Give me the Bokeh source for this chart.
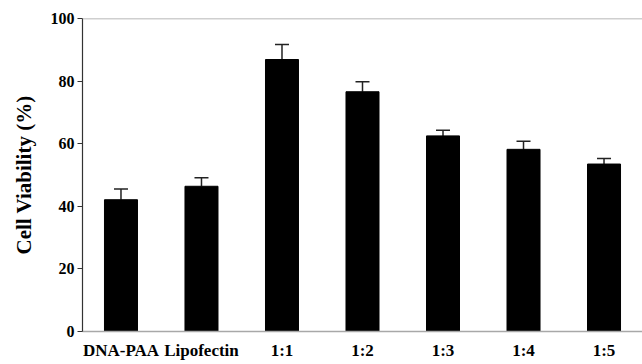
from bokeh.plotting import figure
from bokeh.models import ColumnDataSource, Range1d, FixedTicker, Whisker, Span
from bokeh.embed import file_html
from bokeh.resources import INLINE

categories = ["DNA-PAA", "Lipofectin", "1:1", "1:2", "1:3", "1:4", "1:5"]
viability = [42.1, 46.4, 86.9, 76.6, 62.5, 58.2, 53.5]
errors = [3.4, 2.7, 4.8, 3.2, 1.8, 2.6, 1.8]
y_ticks = [0, 20, 40, 60, 80, 100]

xs = list(range(len(categories)))
src = ColumnDataSource(dict(
    x=xs,
    top=viability,
    upper=[v + e for v, e in zip(viability, errors)],
))

FONT = "Liberation Serif"

p = figure(width=642, height=364, output_backend="svg", toolbar_location=None,
           x_range=Range1d(-0.478, 6.478), y_range=Range1d(0, 100),
           min_border_left=82, min_border_right=0, min_border_top=18,
           min_border_bottom=33)
p.outline_line_color = None
p.xgrid.visible = False
p.ygrid.visible = False
p.background_fill_color = "white"
p.border_fill_color = "white"

p.vbar(x="x", top="top", bottom=0, width=0.41, source=src,
       fill_color="black", line_color="black")

w = Whisker(source=src, base="x", lower="top", upper="upper", dimension="height",
            line_color="#222222", line_width=1.5)
w.lower_head = None
w.upper_head.size = 14
w.upper_head.line_color = "#222222"
w.upper_head.line_width = 1.5
p.add_layout(w)

p.add_layout(Span(location=100, dimension="width", line_color="#a0a0a0", line_width=1.5))

# x axis
p.xaxis.ticker = FixedTicker(ticks=xs)
p.xaxis.major_label_overrides = {i: c for i, c in zip(xs, categories)}
p.xaxis.major_tick_line_color = None
p.xaxis.major_tick_in = 0
p.xaxis.major_tick_out = 0
p.xaxis.minor_tick_line_color = None
p.xaxis.axis_line_color = "#a8a8a8"
p.xaxis.axis_line_width = 1.5
p.xaxis.major_label_standoff = 9
p.xaxis.major_label_text_font = FONT
p.xaxis.major_label_text_font_style = "bold"
p.xaxis.major_label_text_font_size = "17px"
p.xaxis.major_label_text_color = "black"

# y axis
p.yaxis.ticker = FixedTicker(ticks=y_ticks)
p.yaxis.minor_tick_line_color = None
p.yaxis.major_tick_in = 0
p.yaxis.major_tick_out = 5
p.yaxis.major_tick_line_color = "#333333"
p.yaxis.axis_line_color = "#333333"
p.yaxis.axis_line_width = 1.2
p.yaxis.major_label_standoff = 3
p.yaxis.major_label_text_font = FONT
p.yaxis.major_label_text_font_style = "bold"
p.yaxis.major_label_text_font_size = "16px"
p.yaxis.major_label_text_color = "black"
p.yaxis.axis_label = "Cell Viability (%)"
p.yaxis.axis_label_text_font = FONT
p.yaxis.axis_label_text_font_style = "bold"
p.yaxis.axis_label_text_font_size = "21px"
p.yaxis.axis_label_text_color = "black"
p.yaxis.axis_label_standoff = 12

open("out.html", "w").write(file_html(p, INLINE))
